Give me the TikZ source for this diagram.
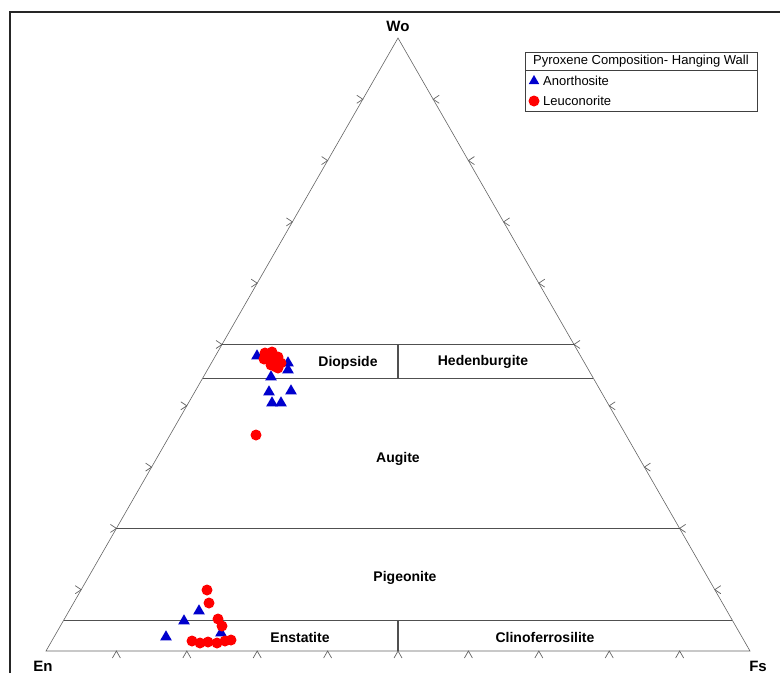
\documentclass[tikz,border=0pt]{standalone}
\usepackage{fontspec}
\setmainfont{Liberation Sans}
\usetikzlibrary{calc,shapes.geometric}
\definecolor{anoblue}{RGB}{0,0,205}
\definecolor{leured}{RGB}{255,0,0}
\definecolor{edgegray}{RGB}{100,100,100}
\definecolor{fieldgray}{RGB}{80,80,80}

\begin{document}
\begin{tikzpicture}[
    x=1pt,y=-1pt,
    edge/.style={draw=edgegray,line width=0.6pt},
    field/.style={draw=fieldgray,line width=1.3pt},
    tick/.style={draw=edgegray,line width=0.7pt},
    phase/.style={font={\fontsize{14}{16}\selectfont\bfseries}},
    corner/.style={font={\fontsize{15}{17}\selectfont\bfseries},anchor=base},
    legtext/.style={font={\fontsize{13}{15}\selectfont},anchor=west,inner sep=0pt},
    ano/.style={regular polygon,regular polygon sides=3,fill=anoblue,
        inner sep=0pt,minimum size=13.5pt},
    leu/.style={circle,fill=leured,inner sep=0pt,minimum size=11pt},
    ]
    \useasboundingbox (0,0) rectangle (780,673);
    \clip (0,0) rectangle (780,673);

    % frame
    \draw[line width=1.6pt,black!85] (10,673) -- (10,12) -- (780,12);

    % ternary triangle
    \coordinate (En) at (46,651);
    \coordinate (Wo) at (398,38);
    \coordinate (Fs) at (750,651);
    \draw[edge] (En) -- (Wo) -- (Fs) -- cycle;

    % ticks every 10 %
    \foreach \k in {1,...,9}{
        \coordinate (tl) at ($(En)!\k*0.1!(Wo)$);
        \coordinate (tr) at ($(Fs)!\k*0.1!(Wo)$);
        \coordinate (tb) at ($(En)!\k*0.1!(Fs)$);
        \draw[tick] ($(tl)+(-6,-4)$) -- (tl) -- ($(tl)+(-6,4)$);
        \draw[tick] ($(tr)+(6,-4)$) -- (tr) -- ($(tr)+(6,4)$);
        \draw[tick] ($(tb)+(-4,7)$) -- (tb) -- ($(tb)+(4,7)$);
    }

    % pyroxene fields (Wo 50, 45, 20, 5)
    \foreach \w/\nm in {0.5/a,0.445/b,0.2/c,0.05/d}{
        \coordinate (L\nm) at ($(En)!\w!(Wo)$);
        \coordinate (R\nm) at ($(Fs)!\w!(Wo)$);
        \draw[field] (L\nm) -- (R\nm);
    }
    \draw[field] (La -| Wo) -- (Lb -| Wo);
    \draw[field] (Ld -| Wo) -- (En -| Wo);

    % field names
    \node[phase] (diop) at (348,363) {Diopside};
    \node[phase] (hed) at (483,362) {Hedenburgite};
    \node[phase] (aug) at (398,459) {Augite};
    \node[phase] (pig) at (405,578) {Pigeonite};
    \node[phase] (ens) at (300,637) {Enstatite};
    \node[phase] (clin) at (545,637) {Clinoferrosilite};

    % end members
    \node[corner] (wo) at (398,31) {Wo};
    \node[corner] (en) at (43,671) {En};
    \node[corner] (fs) at (758,671) {Fs};

    % legend
    \draw[line width=1pt,black!75] (525,52) rectangle (757,111);
    \draw[line width=1pt,black!75] (525,70) -- (757,70);
    \node[font={\fontsize{13}{15}\selectfont}] (legtitle) at (641,61) {Pyroxene Composition- Hanging Wall};
    \node[ano,minimum size=12pt] (legano) at (534,81) {};
    \node[legtext] (legano text) at (543,81) {Anorthosite};
    \node[leu] (legleu) at (534,101) {};
    \node[legtext] (legleu text) at (543,101) {Leuconorite};

    % Anorthosite
    \foreach \px/\py [count=\i] in {257/356,288/363,288/370,271/377,269/392,291/391,
        272/403,281/403,166/637,184/621,199/611,221/633}
        \node[ano] (ano\i) at (\px,\py) {};

    % Leuconorite
    \foreach \px/\py [count=\i] in {265/353,272/352,264/359,270/358,278/357,281/363,
        276/367,274/362,271/365,278/368,256/435,207/590,209/603,218/619,222/626,
        192/641,200/643,208/642,217/643,225/641,231/640}
        \node[leu] (leu\i) at (\px,\py) {};
\end{tikzpicture}
\end{document}
